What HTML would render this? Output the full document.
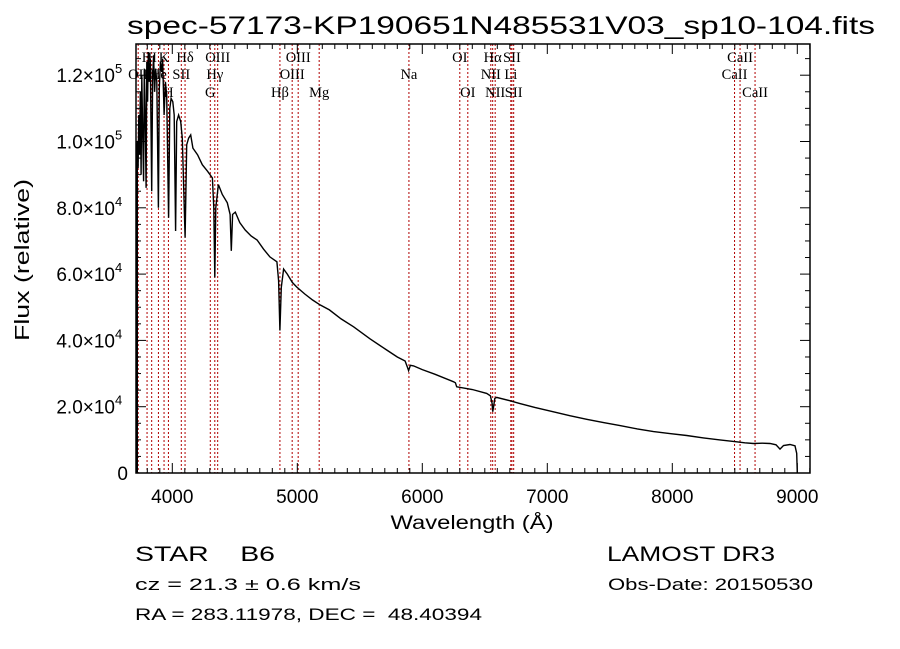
<!DOCTYPE html>
<html><head><meta charset="utf-8"><style>
html,body{margin:0;padding:0;background:#fff;}
svg{display:block;}
text{font-family:"Liberation Sans",sans-serif;fill:#000;white-space:pre;}
.serif{font-family:"Liberation Serif",serif;}
</style></head><body>
<svg id="chart" width="900" height="649" viewBox="0 0 900 649" xmlns="http://www.w3.org/2000/svg" xml:space="preserve">
<rect x="0" y="0" width="900" height="649" fill="#fff"/>
<text x="127" y="34" font-size="25" textLength="748" lengthAdjust="spacingAndGlyphs">spec-57173-KP190651N485531V03_sp10-104.fits</text>
<g id="lines"></g>
<g id="labels"></g>
<g id="series"></g>
<g id="axes"></g>
<text x="472" y="529" font-size="19" text-anchor="middle" textLength="163" lengthAdjust="spacingAndGlyphs">Wavelength (Å)</text>
<text transform="translate(29,260) rotate(-90)" font-size="20" text-anchor="middle" textLength="162" lengthAdjust="spacingAndGlyphs">Flux (relative)</text>
<text x="135" y="561" font-size="21" textLength="140" lengthAdjust="spacingAndGlyphs">STAR    B6</text>
<text x="607" y="561" font-size="21" textLength="168" lengthAdjust="spacingAndGlyphs">LAMOST DR3</text>
<text x="135" y="590" font-size="17" textLength="226" lengthAdjust="spacingAndGlyphs">cz = 21.3 ± 0.6 km/s</text>
<text x="608" y="590" font-size="17" textLength="205" lengthAdjust="spacingAndGlyphs">Obs-Date: 20150530</text>
<text x="135" y="620" font-size="17" textLength="347" lengthAdjust="spacingAndGlyphs">RA = 283.11978, DEC =  48.40394</text>
</svg>
<script>
const wavelengths=[3712,3714,3720,3726,3732,3738,3744,3750,3756,3762,3770,3776,3782,3790,3796,3802,3808,3816,3824,3835,3842,3850,3858,3866,3876,3889,3896,3905,3915,3922,3934,3945,3955,3970,3980,3990,4004,4015,4026,4035,4050,4067,4080,4102,4115,4130,4147,4165,4202,4240,4282,4321,4332,4340,4348,4369,4400,4440,4462,4472,4482,4504,4540,4583,4630,4678,4730,4781,4837,4850,4861,4872,4890,4920,4960,4995,5060,5122,5182,5257,5350,5450,5580,5715,5800,5862,5880,5890,5905,5930,6000,6100,6250,6265,6275,6400,6515,6545,6558,6563,6570,6580,6595,6700,6778,6900,7045,7180,7315,7450,7582,7720,7850,7980,8115,8250,8382,8515,8580,8650,8720,8782,8830,8862,8890,8942,8982,8995,9000];
const fluxK=[0,95,100,92,108,96,115,90,120,104,88,122,110,86,124,112,127,118,125,85,118,126,115,122,118,80,116,124,121,125,108,118,114,77,110,113,112,108,73,106,108,106,101,71,99,101,102,98,96,93,91,89,80,59,80,87,84,81.5,78,67,78,78.7,75.5,73.3,71.5,70.3,67.5,65.2,63.7,58,43,56,61.5,60,57.5,56.1,54,52.2,50.7,49.2,46.5,44.1,40.5,37.1,35,33.8,32,30.9,32.5,32.3,31.2,29.8,27.5,27.2,26,25.2,24,23.3,21,18.5,20,22.5,22.8,21.8,21,19.8,18.5,17.3,16.2,15.2,14.3,13.3,12.5,11.9,11.3,10.6,10,9.4,9.1,8.9,9.0,8.9,8.5,7.2,8.3,8.6,8.2,5.9,0];
const xTickValues=[4000,5000,6000,7000,8000,9000];
const xTickLabels=["4000","5000","6000","7000","8000","9000"];
const yTickValues=[0,20000,40000,60000,80000,100000,120000];
const yTickMant=["0","2.0","4.0","6.0","8.0","1.0","1.2"];
const yTickExp=["","4","4","4","4","5","5"];
const lineWaves=[3727,3798,3835,3889,3934,3969,4072,4102,4304,4340,4363,4861,4959,5007,5175,5893,6300,6364,6548,6563,6583,6708,6717,6731,8498,8542,8662];
const labelText=["OII","H","H","He","K","H","SII","Hδ","G","Hγ","OIII","Hβ","OIII","OIII","Mg","Na","OI","OI","NII","Hα","NII","Li","SII","SII","CaII","CaII","CaII"];
const labelRow=[2,1,1,2,1,3,2,1,3,2,1,3,2,1,3,2,1,3,2,1,3,2,1,3,2,1,3];

const NS="http://www.w3.org/2000/svg";
const L=136,R=810,T=44,B=473;
function xs(l){return 172.3+(l-4000)*0.125;}
function ys(f){return B-(f/20000)*66.3;}
function mk(tag,attrs,parent){const e=document.createElementNS(NS,tag);for(const k in attrs)e.setAttribute(k,attrs[k]);parent.appendChild(e);return e;}

const gl=document.getElementById('lines');
const glab=document.getElementById('labels');
lineWaves.forEach((w,i)=>{
  const x=xs(w);
  const ln=mk('line',{x1:x,x2:x,y1:T,y2:B,stroke:'#b00000','stroke-width':1,'stroke-dasharray':'2,2'},gl);
  
  
  const ty=[0,62,79,97][labelRow[i]];
  const t=mk('text',{x:x,y:ty,'font-size':14.5,'text-anchor':'middle','class':'serif'},glab);
  t.textContent=labelText[i];
  
  
});

const gs=document.getElementById('series');
let pts=wavelengths.map((w,i)=>xs(w).toFixed(1)+','+ys(fluxK[i]*1000).toFixed(1)).join(' ');
const pl=mk('polyline',{points:pts,fill:'none',stroke:'#000','stroke-width':1.4,'stroke-linejoin':'miter'},gs);


const edge=mk('line',{x1:L+1,x2:L+1,y1:B,y2:ys(95000),stroke:'#000','stroke-width':2},gs);



const ga=document.getElementById('axes');
const frame=mk('rect',{x:L,y:T,width:R-L,height:B-T,fill:'none',stroke:'#000','stroke-width':1.5},ga);


for(let w=3800;w<=9100;w+=100){
  const x=xs(w);if(x<L||x>R)continue;
  const major=w%1000===0;const len=major?10:5;
  mk('line',{x1:x,x2:x,y1:B,y2:B-len,stroke:'#000','stroke-width':1},ga);
  mk('line',{x1:x,x2:x,y1:T,y2:T+len,stroke:'#000','stroke-width':1},ga);
}
for(let f=0;f<=125000;f+=5000){
  const y=ys(f);if(y<T)continue;
  const major=f%20000===0;const len=major?10:5;
  mk('line',{x1:L,x2:L+len,y1:y,y2:y,stroke:'#000','stroke-width':1},ga);
  mk('line',{x1:R,x2:R-len,y1:y,y2:y,stroke:'#000','stroke-width':1},ga);
}
xTickValues.forEach((v,i)=>{
  const t=mk('text',{x:xs(v),y:503,'font-size':19,'text-anchor':'middle'},ga);
  t.textContent=xTickLabels[i];
  
  
});
yTickValues.forEach((v,i)=>{
  const y=ys(v)+7;
  const t=mk('text',{x:yTickExp[i]?115:128,y:y,'font-size':19,'text-anchor':'end'},ga);
  t.textContent=yTickExp[i]?yTickMant[i]+'×10':yTickMant[i];
  
  
  if(yTickExp[i]){
    const s=mk('text',{x:115,y:y-9,'font-size':13},ga);
    s.textContent=yTickExp[i];
    
    
  }
});
</script>
</body></html>
